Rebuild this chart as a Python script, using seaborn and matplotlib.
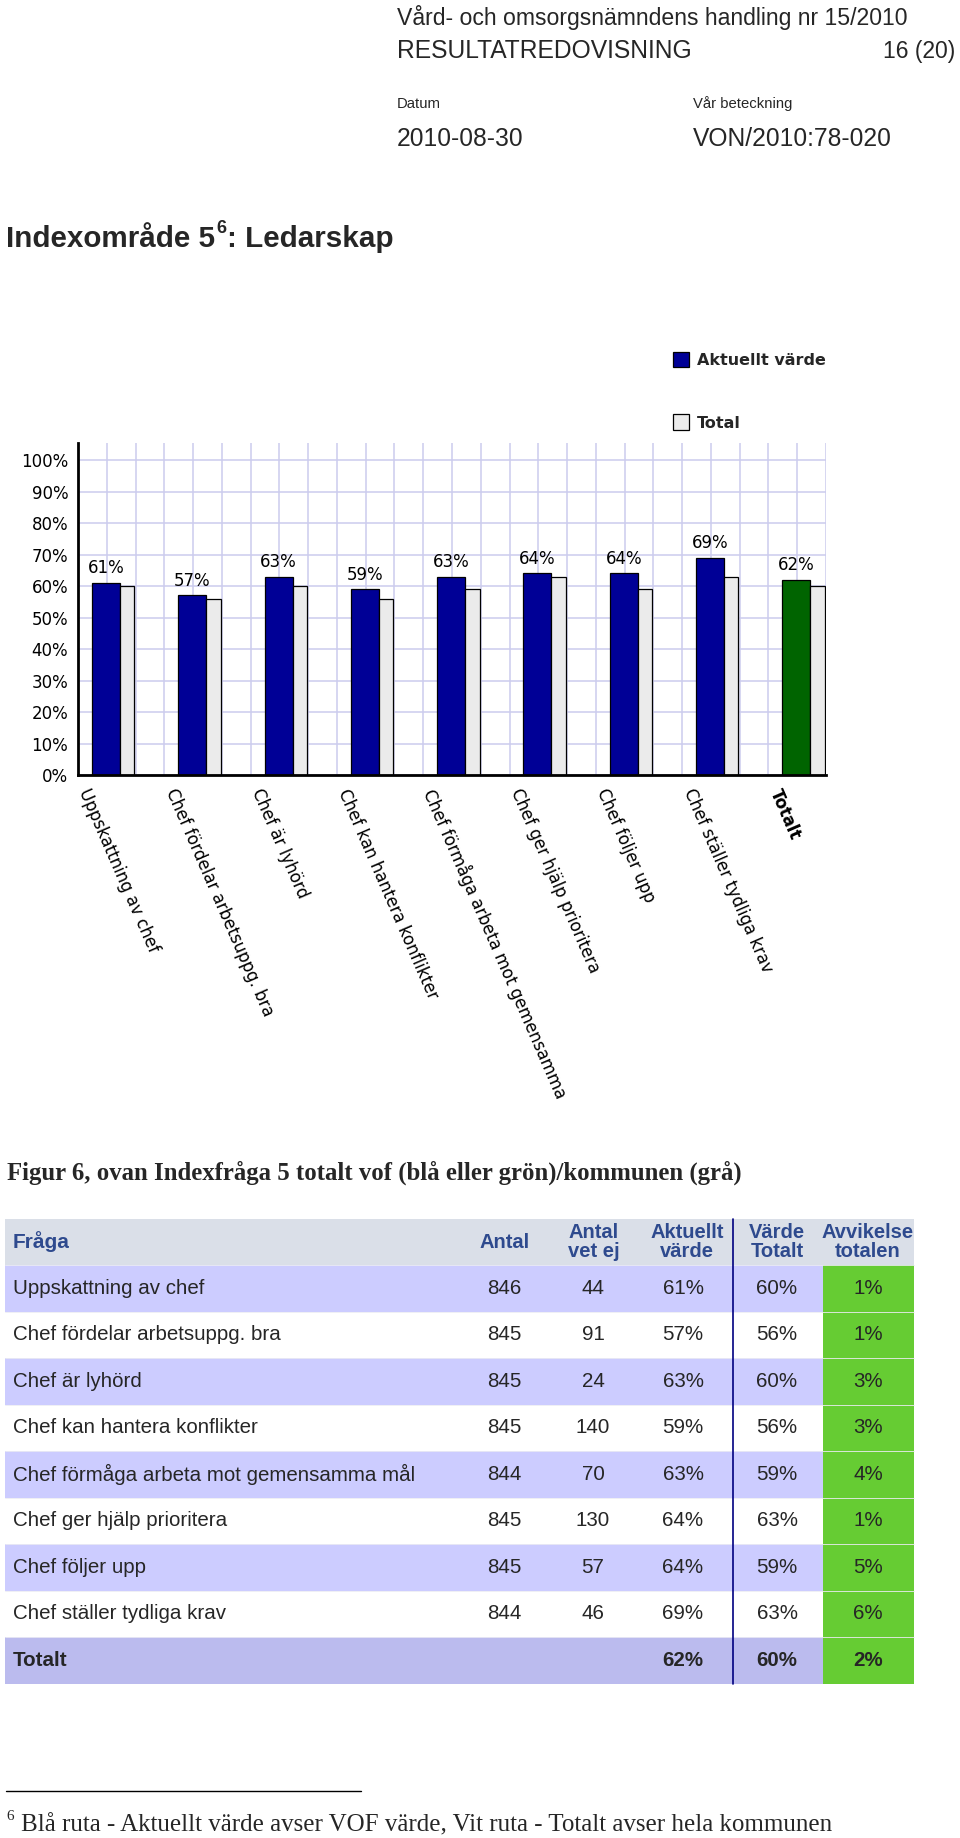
import numpy as np
import pandas as pd
import matplotlib
matplotlib.use("Agg")
import matplotlib.pyplot as plt
import seaborn as sns
from matplotlib.patches import Patch, Rectangle

# ---------------- data ----------------
categories = ["Uppskattning av chef", "Chef fördelar arbetsuppg. bra", "Chef är lyhörd",
              "Chef kan hantera konflikter", "Chef förmåga arbeta mot gemensamma",
              "Chef ger hjälp prioritera", "Chef följer upp", "Chef ställer tydliga krav", "Totalt"]
aktuellt = [61, 57, 63, 59, 63, 64, 64, 69, 62]
total = [60, 56, 60, 56, 59, 63, 59, 63, 60]
ytick_values = [0, 10, 20, 30, 40, 50, 60, 70, 80, 90, 100]
ytick_labels = [f"{v}%" for v in ytick_values]

table_questions = ["Uppskattning av chef", "Chef fördelar arbetsuppg. bra", "Chef är lyhörd",
                   "Chef kan hantera konflikter", "Chef förmåga arbeta mot gemensamma mål",
                   "Chef ger hjälp prioritera", "Chef följer upp", "Chef ställer tydliga krav", "Totalt"]
antal = ["846", "845", "845", "845", "844", "845", "845", "844", ""]
antal_vet_ej = ["44", "91", "24", "140", "70", "130", "57", "46", ""]
aktuellt_varde = ["61%", "57%", "63%", "59%", "63%", "64%", "64%", "69%", "62%"]
varde_totalt = ["60%", "56%", "60%", "56%", "59%", "63%", "59%", "63%", "60%"]
avvikelse = ["1%", "1%", "3%", "3%", "4%", "1%", "5%", "6%", "2%"]
table_headers = ["Fråga", "Antal", "Antal\nvet ej", "Aktuellt\nvärde", "Värde\nTotalt", "Avvikelse\ntotalen"]

BLUE = "#000096"
GREEN = "#006400"
GREY = "#ebebeb"
GRIDC = "#ccccee"

sns.set_theme(style="white")
plt.rcParams["font.family"] = ["DejaVu Sans"]

W, H = 960, 1838
fig = plt.figure(figsize=(W / 100, H / 100), dpi=100)
page = fig.add_axes([0, 0, 1, 1])
page.set_xlim(0, W)
page.set_ylim(H, 0)
page.axis("off")

SANS = ["Liberation Sans", "DejaVu Sans"]
SERIF = ["Liberation Serif", "DejaVu Serif"]

# ---------------- page header ----------------
page.text(397, 25, "Vård- och omsorgsnämndens handling nr 15/2010", fontsize=16.6, family=SANS, va="baseline")
page.text(397, 58, "RESULTATREDOVISNING", fontsize=17.7, family=SANS, va="baseline")
page.text(955, 58, "16 (20)", fontsize=16.5, family=SANS, va="baseline", ha="right")
page.text(397, 108, "Datum", fontsize=10.7, family=SANS, va="baseline")
page.text(693, 108, "Vår beteckning", fontsize=10.7, family=SANS, va="baseline")
page.text(397, 146, "2010-08-30", fontsize=17.7, family=SANS, va="baseline")
page.text(693, 146, "VON/2010:78-020", fontsize=17.7, family=SANS, va="baseline")

renderer = fig.canvas.get_renderer()


def text_right_px(t):
    bb = t.get_window_extent(renderer=renderer)
    return bb.x1


t1 = page.text(6, 247, "Indexområde 5", fontsize=21.3, family=SANS, weight="bold", va="baseline")
x_after = text_right_px(t1)
t2 = page.text(x_after + 1, 233, "6", fontsize=13, family=SANS, weight="bold", va="baseline")
x_after2 = text_right_px(t2)
page.text(x_after2 + 1, 247, ": Ledarskap", fontsize=21.3, family=SANS, weight="bold", va="baseline")

# ---------------- chart ----------------
ax = fig.add_axes([78 / W, 1 - 775 / H, 748 / W, 332 / H])
n = len(categories)
pos = np.arange(n)
bar_colors = [BLUE] * (n - 1) + [GREEN]

df_a = pd.DataFrame({"pos": pos - 0.1625, "value": aktuellt, "cat": categories})
df_t = pd.DataFrame({"pos": pos + 0.083, "value": total, "cat": categories})

sns.barplot(data=df_a, x="pos", y="value", hue="cat", palette=bar_colors, native_scale=True,
            width=0.325, dodge=False, edgecolor="black", linewidth=0.9, legend=False,
            errorbar=None, saturation=1, ax=ax)
n_blue_containers = len(ax.containers)
sns.barplot(data=df_t, x="pos", y="value", color=GREY, native_scale=True,
            width=0.166, edgecolor="black", linewidth=0.9, errorbar=None, saturation=1, ax=ax)

for c in ax.containers[:n_blue_containers]:
    ax.bar_label(c, fmt="{:.0f}%", padding=4, fontsize=12, color="black")

xl, xr = -0.4867, 8.181
ax.set_xlim(xl, xr)
ax.set_ylim(0, 105.4)
ax.set_xticks(pos - 0.325)
ax.set_xticklabels(categories)
ax.set_xticks(xl + np.arange(1, 27) * (xr - xl) / 26, minor=True)
ax.set_yticks(ytick_values)
ax.set_yticklabels(ytick_labels)
ax.set_xlabel("")
ax.set_ylabel("")
ax.grid(False)
ax.grid(True, axis="x", which="minor", color=GRIDC, linewidth=1.1)
ax.grid(True, axis="y", which="major", color=GRIDC, linewidth=1.1)
ax.set_axisbelow(True)
for s in ["top", "right"]:
    ax.spines[s].set_visible(False)
for s in ["left", "bottom"]:
    ax.spines[s].set_color("black")
    ax.spines[s].set_linewidth(2)
ax.tick_params(axis="y", length=0, pad=7, labelsize=12, labelcolor="black")
ax.tick_params(axis="x", which="both", length=0, pad=8, labelsize=12, labelcolor="black")
for i, lab in enumerate(ax.get_xticklabels()):
    lab.set_rotation(-66.5)
    lab.set_ha("left")
    lab.set_va("top")
    lab.set_rotation_mode("anchor")
    if i == n - 1:
        lab.set_fontweight("bold")

handles = [Patch(facecolor=BLUE, edgecolor="black", linewidth=0.9),
           Patch(facecolor=GREY, edgecolor="black", linewidth=0.9)]
fig.legend(handles, ["Aktuellt värde", "Total"], loc="upper left",
           bbox_to_anchor=(673 / W, 1 - 352 / H), frameon=False, borderpad=0, borderaxespad=0,
           handlelength=1.0, handleheight=1.1, handletextpad=0.5, labelspacing=2.9,
           prop={"weight": "bold", "size": 11.5})

# ---------------- caption ----------------
page.text(7, 1180, "Figur 6, ovan Indexfråga 5 totalt vof (blå eller grön)/kommunen (grå)",
          fontsize=17.8, family=SERIF, weight="bold", va="baseline")

# ---------------- table ----------------
TL, TR = 5, 914
HEAD_TOP, ROW_TOP, RH = 1219, 1265, 46.5
n_rows = len(table_questions)
TB = ROW_TOP + RH * n_rows
page.add_patch(Rectangle((TL, HEAD_TOP), TR - TL, ROW_TOP - HEAD_TOP, facecolor="#dadfe8", edgecolor="none"))
for i in range(n_rows):
    y0 = ROW_TOP + i * RH
    if i == n_rows - 1:
        fc = "#bbbbee"
    elif i % 2 == 0:
        fc = "#ccccff"
    else:
        fc = "white"
    page.add_patch(Rectangle((TL, y0), TR - TL, RH, facecolor=fc, edgecolor="none"))
    page.plot([TL, TR], [y0, y0], color="#ececf4", linewidth=0.6)
page.add_patch(Rectangle((823, ROW_TOP), TR - 823, TB - ROW_TOP, facecolor="#66cc33", edgecolor="none"))
page.plot([733, 733], [HEAD_TOP, TB], color="#000080", linewidth=1.2)

HEAD_C = "#2e4a8e"
col_x = [504, 593, 683, 777, 868]
head_x = [505, 594, 687, 777, 868]
head_cy = (HEAD_TOP + ROW_TOP) / 2
page.text(13, head_cy, table_headers[0], fontsize=15, family=SANS, weight="bold", color=HEAD_C,
          va="center", ha="left")
for hx, h in zip(head_x, table_headers[1:]):
    page.text(hx, head_cy, h, fontsize=14.5, family=SANS, weight="bold", color=HEAD_C,
              va="center", ha="center", linespacing=1.05)

for i in range(n_rows):
    cy = ROW_TOP + (i + 0.5) * RH
    wt = "bold" if i == n_rows - 1 else "normal"
    page.text(13, cy, table_questions[i], fontsize=14.8, family=SANS, weight=wt, va="center", ha="left")
    for cx, col in zip(col_x, [antal, antal_vet_ej, aktuellt_varde, varde_totalt, avvikelse]):
        page.text(cx, cy, col[i], fontsize=14.8, family=SANS, weight=wt, va="center", ha="center")

# ---------------- footnote ----------------
page.plot([6, 361], [1791, 1791], color="black", linewidth=1)
f1 = page.text(6, 1820, "6", fontsize=11, family=SERIF, va="baseline")
fx = text_right_px(f1)
page.text(fx + 7, 1831, "Blå ruta - Aktuellt värde avser VOF värde, Vit ruta - Totalt avser hela kommunen",
          fontsize=18, family=SERIF, va="baseline")

fig.savefig("out.png", dpi=100)
